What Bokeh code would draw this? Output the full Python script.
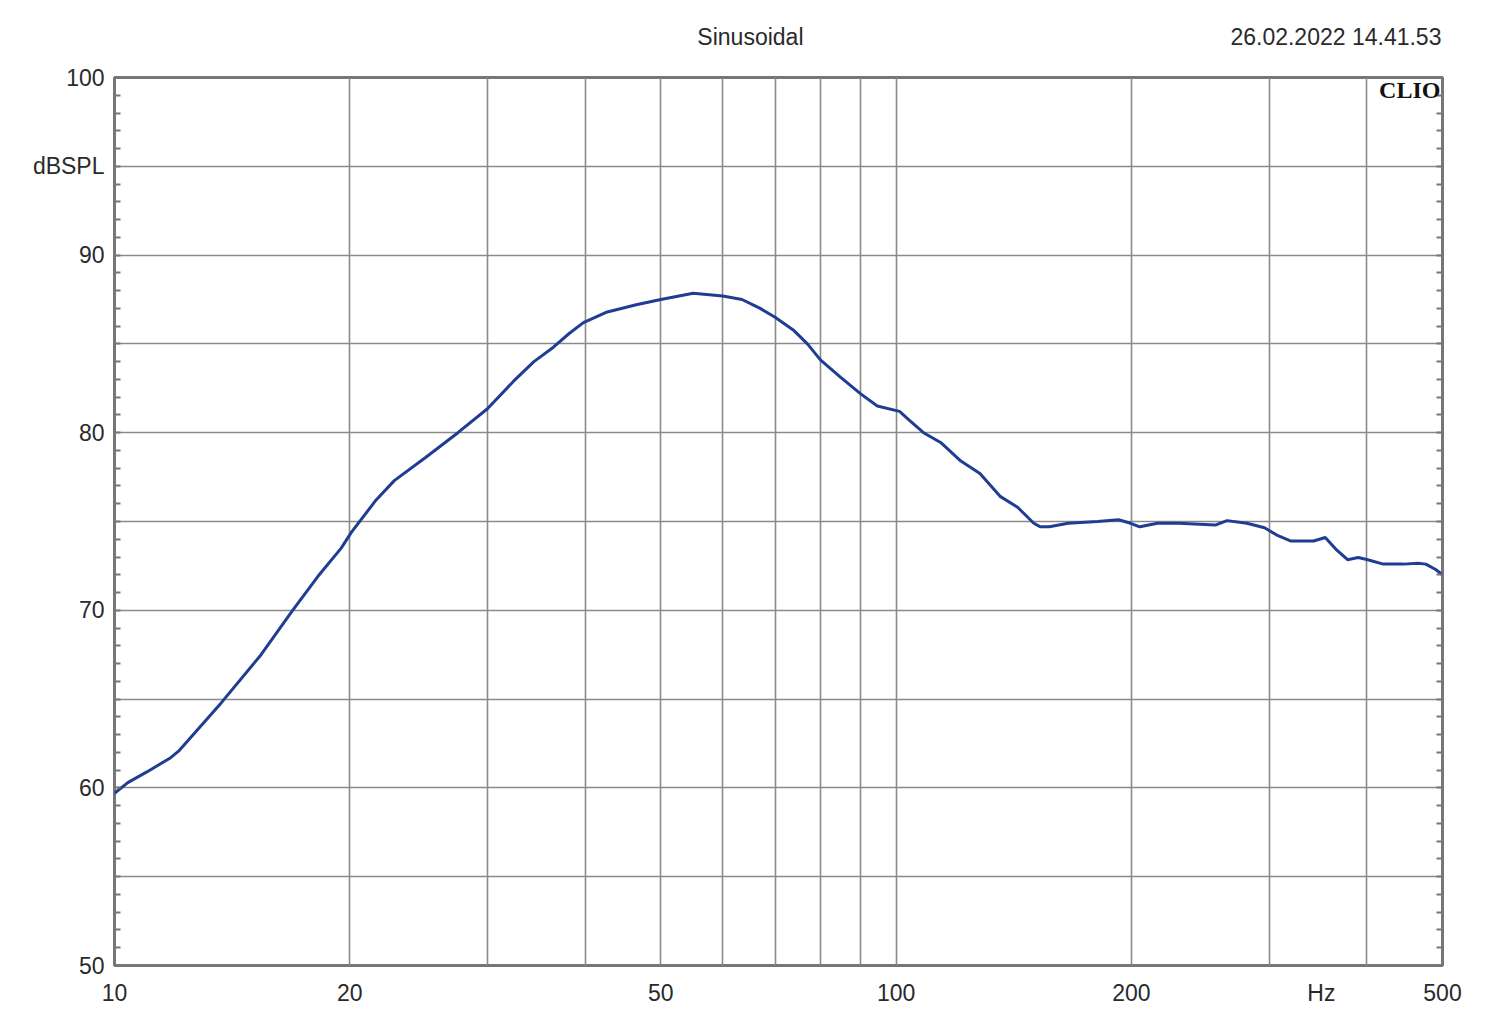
from bokeh.plotting import figure
from bokeh.models import FixedTicker, LinearAxis, LogAxis, Label, Range1d
from bokeh.embed import file_html
from bokeh.resources import INLINE

# ---- data ----
freq_hz = [10, 10.4, 11.0, 11.8, 12.1, 13.7, 15.4, 16.9, 18.2, 19.5, 20.1, 21.6, 22.8, 25.0,
           27.5, 30, 32.4, 34.4, 36.4, 38.2, 39.8, 42.7, 46.5, 50, 55, 60, 63.5, 67, 70, 74,
           77, 80, 85, 90, 94.6, 101, 104, 108.4, 114, 121, 128, 136, 143, 150, 153, 157,
           166, 181, 192.6, 199.5, 205, 216, 230, 256, 265, 281, 296, 308, 320, 342, 354,
           366, 378, 390, 400, 420, 446, 465, 476, 490, 500]
spl_db = [59.7, 60.3, 60.9, 61.7, 62.1, 64.8, 67.5, 70.0, 71.9, 73.5, 74.4, 76.2, 77.3, 78.6,
          80.0, 81.35, 82.9, 84.0, 84.8, 85.6, 86.2, 86.8, 87.2, 87.5, 87.85, 87.7, 87.5, 87.0, 86.5, 85.75,
          85.0, 84.1, 83.1, 82.2, 81.5, 81.2, 80.7, 80.0, 79.45, 78.4, 77.7, 76.4, 75.8, 74.9, 74.7, 74.7,
          74.9, 75.0, 75.1, 74.9, 74.7, 74.9, 74.9, 74.8, 75.05, 74.9, 74.65, 74.2, 73.9, 73.9, 74.1,
          73.4, 72.85, 72.97, 72.86, 72.6, 72.6, 72.65, 72.6, 72.3, 72.0]

y_label_ticks = [50, 60, 70, 80, 90, 95, 100]
y_label_texts = ["50", "60", "70", "80", "90", "dBSPL", "100"]
y_grid_ticks = [50, 55, 60, 65, 70, 75, 80, 85, 90, 95, 100]
y_minor_ticks = list(range(50, 101))
x_label_ticks = [10, 20, 50, 100, 200, 350, 500]
x_label_texts = ["10", "20", "50", "100", "200", "Hz", "500"]
x_grid_ticks = [10, 20, 30, 40, 50, 60, 70, 80, 90, 100, 200, 300, 400, 500]

# header texts, placed on a tick-less top axis
header_ticks = [65.1, 365.3]
header_texts = ["Sinusoidal", "26.02.2022 14.41.53"]
brand_text = "CLIO"

FONT = "Liberation Sans"
TXT = "#2a2a2a"
GRID = "#8a8a8a"
FRAME = "#767676"
CURVE = "#1f3d92"

p = figure(x_axis_type="log", x_range=Range1d(10, 500), y_range=Range1d(50, 100),
           frame_width=1328, frame_height=888,
           min_border_left=114, min_border_right=50, min_border_top=77, min_border_bottom=55,
           output_backend="svg", toolbar_location=None,
           background_fill_color="white", border_fill_color="white")

p.outline_line_color = FRAME
p.outline_line_width = 3

# grids
p.xgrid.ticker = FixedTicker(ticks=x_grid_ticks)
p.ygrid.ticker = FixedTicker(ticks=y_grid_ticks)
for g in (p.xgrid, p.ygrid):
    g.grid_line_color = GRID
    g.grid_line_width = 1.6

# x axis
xa = p.xaxis[0]
xa.ticker = FixedTicker(ticks=x_label_ticks, minor_ticks=[])
xa.major_label_overrides = {t: s for t, s in zip(x_label_ticks, x_label_texts)}
xa.axis_line_color = None
xa.major_tick_in = 0
xa.major_tick_out = 0
xa.minor_tick_in = 0
xa.minor_tick_out = 0
xa.major_label_standoff = 14
xa.major_label_text_font = FONT
xa.major_label_text_font_size = "23px"
xa.major_label_text_color = TXT

# top axis carrying the header texts
ta = LogAxis(ticker=FixedTicker(ticks=header_ticks, minor_ticks=[]))
ta.major_label_overrides = {t: s for t, s in zip(header_ticks, header_texts)}
ta.axis_line_color = None
ta.major_tick_in = 0
ta.major_tick_out = 0
ta.minor_tick_in = 0
ta.minor_tick_out = 0
ta.major_label_standoff = 28
ta.major_label_text_font = FONT
ta.major_label_text_font_size = "23px"
ta.major_label_text_color = TXT
p.add_layout(ta, "above")

# left y axis
ya = p.yaxis[0]
ya.ticker = FixedTicker(ticks=y_label_ticks, minor_ticks=y_minor_ticks)
ya.major_label_overrides = {t: s for t, s in zip(y_label_ticks, y_label_texts)}
ya.axis_line_color = None
ya.major_tick_in = 0
ya.major_tick_out = 0
ya.minor_tick_in = 6
ya.minor_tick_out = 0
ya.minor_tick_line_color = FRAME
ya.minor_tick_line_width = 2
ya.major_label_standoff = 10
ya.major_label_text_font = FONT
ya.major_label_text_font_size = "23px"
ya.major_label_text_color = TXT

# right y axis (ticks only)
ra = LinearAxis(ticker=FixedTicker(ticks=[], minor_ticks=y_minor_ticks))
ra.axis_line_color = None
ra.major_tick_in = 0
ra.major_tick_out = 0
ra.minor_tick_in = 6
ra.minor_tick_out = 0
ra.minor_tick_line_color = FRAME
ra.minor_tick_line_width = 2
ra.major_label_text_font_size = "0px"
p.add_layout(ra, "right")

# curve
p.line(freq_hz, spl_db, line_color=CURVE, line_width=3)

# brand mark inside the frame
p.add_layout(Label(x=497, y=99.3, text=brand_text, text_align="right", text_baseline="middle",
                   text_font="Liberation Serif", text_font_style="bold", text_font_size="24px",
                   text_color="#111111"))

open("out.html", "w").write(file_html(p, INLINE))
